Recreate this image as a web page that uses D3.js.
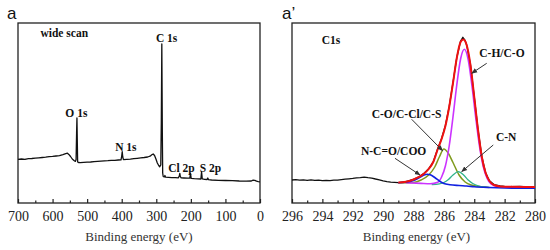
<!DOCTYPE html>
<html>
<head>
<meta charset="utf-8">
<script src="https://cdn.jsdelivr.net/npm/d3@7"></script>
<style>
  html, body { margin: 0; padding: 0; background: #fff; }
  svg { display: block; }
  .serif { font-family: "Liberation Serif", "Times New Roman", Times, "DejaVu Serif", serif; }
  .sans { font-family: "Liberation Sans", Arial, Helvetica, sans-serif; }
</style>
</head>
<body>
<script>
// ---------------- DATA ----------------
// Survey spectrum (binding energy eV, intensity a.u.)
const surveyData = [
  [700,43.7],[690,44.0],[680,43.6],[670,44.3],[660,44.5],[650,44.9],[640,45.2],[630,45.5],[620,45.8],
  [610,46.3],[600,46.6],[590,47.0],[580,47.4],[570,48.3],[562,49.3],[557,49.8],[553,48.6],[548,46.5],
  [543,44.0],[538,42.5],[534,41.6],[532,43.5],[530.5,70],[529.5,85],[528.5,62],[527.5,41.0],[525,40.5],
  [520,40.3],[510,40.6],[500,40.9],[490,41.0],[480,41.4],[470,41.7],[460,41.9],[450,42.1],[440,42.3],
  [430,42.6],[420,42.7],[410,43.0],[402,43.1],[400,47],[398.5,51.3],[397,46],[395,43.3],[385,43.6],
  [375,43.9],[365,44.3],[355,44.7],[345,45.1],[335,45.5],[325,46.0],[318,46.8],[313,48.2],[309,49.0],
  [305,47.5],[301,44],[297,40],[293,37.5],[290,36.3],[287,38],[285.5,80],[284,159],[282.5,70],[281.5,30],
  [280,26.5],[277,26.0],[275,27.5],[273,25.8],[265,25.6],[255,25.4],[245,25.3],[236,25.2],[233.5,27],
  [232,29.7],[230.5,26.5],[228,25.1],[220,25.0],[210,24.8],[203,24.8],[201,29.5],[199,24.7],[190,24.4],
  [180,24.2],[171,24.0],[169,31.3],[167,24.2],[160,23.7],[153,23.5],[151,25],[149,23.3],[140,23.0],
  [120,22.7],[100,22.5],[80,22.3],[60,22.0],[40,21.9],[25,22.0],[20,22.8],[15,22.6],[10,21.8],[5,21.4],[0,21.2]
];
const surveyLabels = [
  {text:"wide scan", e:635, i:170},
  {text:"C 1s", e:301, i:165},
  {text:"O 1s", e:563, i:90},
  {text:"N 1s", e:419, i:56},
  {text:"Cl 2p", e:265.6, i:35},
  {text:"S 2p", e:174.3, i:35}
];
const surveyTicks = [700,600,500,400,300,200,100,0];
const surveyMinor = [650,550,450,350,250,150,50];

// C1s high resolution
const c1sRaw = [
  [296.0,23.0],[295.75,23.3],[295.5,22.8],[295.25,23.1],[295.0,22.7],[294.75,23.2],[294.5,22.6],[294.25,22.9],
  [294.0,22.4],[293.75,22.7],[293.5,22.3],[293.25,22.8],[293.0,22.9],[292.75,23.4],[292.5,23.8],[292.25,24.2],
  [292.0,24.6],[291.75,25.1],[291.5,25.4],[291.25,25.8],[291.0,25.3],[290.75,24.9],[290.5,24.0],[290.25,23.2],
  [290.0,22.1],[289.75,21.3],[289.5,20.8],[289.25,20.6],[289.0,20.4],[288.5,21.3],[288.0,23.6],[287.6,26.5],
  [287.3,29.8],[287.0,34.2],[286.7,41.2],[286.4,54.5],[286.15,64.5],[285.9,77.5],[285.65,96.3],[285.4,120.5],
  [285.15,145.5],[284.9,162],[284.75,165.7],[284.6,162.5],[284.5,158],[284.25,138.3],[284.0,106.2],
  [283.75,73.2],[283.5,46.3],[283.25,30.2],[283.0,22.3],[282.7,18.4],[282.3,17.0],[282.0,16.7],[281.5,16.4],
  [281.0,16.5],[280.5,16.1],[280.0,16.0]
];
const c1sEnvelope = [
  [289.0,20.5],[288.5,21.2],[288.0,23.5],[287.6,26.3],[287.3,29.5],[287.0,34],[286.7,41],[286.4,54],
  [286.15,64],[285.9,77],[285.65,96],[285.4,120],[285.15,145],[284.9,161],[284.72,163.5],[284.5,158],
  [284.25,138],[284.0,106],[283.75,73],[283.5,46],[283.25,30],[283.0,22],[282.7,18],[282.3,16.6],
  [281.5,16.2],[280.0,16.0]
];
const peakCH = [
  [288.5,20.3],[287.5,19.6],[286.9,19.3],[286.4,20.8],[286.15,26],[285.9,37],[285.65,57],[285.4,86],
  [285.15,118],[284.9,144],[284.65,153.7],[284.4,143.5],[284.15,117],[283.9,85],[283.65,56.3],[283.4,36],
  [283.15,24.5],[282.9,19],[282.5,16.5],[282.0,16.0],[281.0,15.8],[280.0,15.7]
];
const peakCO = [
  [289.0,20.2],[288.0,20.6],[287.5,23],[287.0,28],[286.6,36],[286.3,46],[286.0,54],[285.7,49.5],
  [285.4,40.5],[285.0,28],[284.6,21],[284.2,18],[283.5,16.3],[283.0,15.6]
];
const peakCN = [
  [286.8,18.5],[286.3,19.2],[286.0,20.5],[285.7,23.5],[285.4,28],[285.05,31.3],[284.7,28],[284.4,23],
  [284.1,19.5],[283.7,17],[283.2,15.8]
];
const peakNCO = [
  [289.0,20.3],[288.5,20.8],[288.0,22.5],[287.6,25.5],[287.3,28.0],[287.1,28.7],[286.9,28.2],[286.6,25.5],
  [286.3,22.0],[286.0,19.5],[285.6,18.3],[285.0,17.5],[284.5,17.0],[284.0,16.3],[283.0,15.5],[282.0,15.0],
  [281.0,14.8],[280.0,14.7]
];
const c1sLabels = [
  {text:"C1s", e:294.04, i:163},
  {text:"C-H/C-O", e:283.67, i:149.7},
  {text:"C-O/C-Cl/C-S", e:290.75, i:89},
  {text:"C-N", e:282.57, i:65.7},
  {text:"N-C=O/COO", e:291.46, i:52.3}
];
const c1sArrows = [
  {e1:283.18, i1:139.7, e2:284.17, i2:129.7},
  {e1:288.12, i1:83.7,  e2:286.08, i2:52.3},
  {e1:282.75, i1:58,    e2:284.83, i2:31.3},
  {e1:289.22, i1:44.7,  e2:287.57, i2:28}
];
const c1sTicks = [296,294,292,290,288,286,284,282,280];
const c1sMinor = [295,293,291,289,287,285,283,281];

// ---------------- DRAW ----------------
const svg = d3.select("body").append("svg").attr("width",550).attr("height",250);
const TOP = 23, BOT = 203;
const y = d3.scaleLinear().domain([0,180]).range([BOT,TOP]);

svg.append("defs").append("marker")
  .attr("id","arr").attr("viewBox","0 0 10 10").attr("refX",9).attr("refY",5)
  .attr("markerWidth",6).attr("markerHeight",6).attr("orient","auto")
  .append("path").attr("d","M0,1 L10,5 L0,9 z").attr("fill","#333");

function panel(x0,x1,domain,ticks,minor,title,letter,letterX){
  const x = d3.scaleLinear().domain(domain).range([x0,x1]);
  const g = svg.append("g");
  const ax = g.append("g").attr("transform",`translate(0,${BOT})`)
    .call(d3.axisBottom(x).tickValues(ticks).tickSizeInner(-4).tickSizeOuter(0).tickPadding(8.5).tickFormat(d3.format("d")));
  ax.attr("font-family",null).attr("font-size",null);
  ax.select(".domain").remove();
  ax.selectAll("text").attr("class","serif").style("font-size","14px").attr("fill","#222");
  ax.selectAll("line").attr("stroke","#222").attr("stroke-width",1.2);
  const mx = g.append("g").attr("transform",`translate(0,${BOT})`)
    .call(d3.axisBottom(x).tickValues(minor).tickSizeInner(-2.5).tickSizeOuter(0).tickFormat(""));
  mx.select(".domain").remove();
  mx.selectAll("line").attr("stroke","#222").attr("stroke-width",1.2);
  g.append("rect").attr("x",x0).attr("y",TOP).attr("width",x1-x0).attr("height",BOT-TOP)
    .attr("fill","none").attr("stroke","#222").attr("stroke-width",1.3);
  g.append("text").attr("class","serif").attr("x",(x0+x1)/2+ (letter==="a"?0:3)).attr("y",241).attr("text-anchor","middle")
    .style("font-size","13px").attr("fill","#333").text(title);
  g.append("text").attr("class","sans").attr("x",letterX).attr("y",18.5).style("font-size","17px")
    .attr("fill","#111").text(letter);
  return {x,g};
}

// Left: survey
const L = panel(18,260,[700,0],surveyTicks,surveyMinor,"Binding energy (eV)","a",7);
L.g.append("path").datum(surveyData)
  .attr("d",d3.line().x(d=>L.x(d[0])).y(d=>y(d[1])))
  .attr("fill","none").attr("stroke","#111").attr("stroke-width",1.3).attr("stroke-linejoin","round");
L.g.selectAll("text.lbl").data(surveyLabels).join("text").attr("class","lbl serif")
  .attr("x",d=>L.x(d.e)).attr("y",d=>y(d.i)).attr("dy","0.35em")
  .style("font-weight","bold").style("font-size","11.5px").attr("fill","#111")
  .text(d=>d.text);

// Right: C1s
const R = panel(292,535,[296,280],c1sTicks,c1sMinor,"Binding energy (eV)","a\u2019",282);
const sm = d3.line().x(d=>R.x(d[0])).y(d=>y(d[1])).curve(d3.curveMonotoneX);
const smR = d3.line().x(d=>R.x(d[0])).y(d=>y(d[1])).curve(d3.curveLinear);
const sorted = a => a.slice().sort((p,q)=>q[0]-p[0]);
R.g.append("path").datum(sorted(c1sRaw)).attr("d",smR)
  .attr("fill","none").attr("stroke","#111").attr("stroke-width",1.3).attr("stroke-linejoin","round");
[[peakCO,"#7f9a1c",1.5],[peakCN,"#2fb38c",1.3],[peakCH,"#cc33ff",1.6],[peakNCO,"#1020e0",1.6],[c1sEnvelope,"#ee1111",2.0]]
  .forEach(([data,col,w])=>{
    R.g.append("path").datum(sorted(data)).attr("d",sm)
      .attr("fill","none").attr("stroke",col).attr("stroke-width",w);
  });
R.g.selectAll("line.arrow").data(c1sArrows).join("line").attr("class","arrow")
  .attr("x1",d=>R.x(d.e1)).attr("y1",d=>y(d.i1)).attr("x2",d=>R.x(d.e2)).attr("y2",d=>y(d.i2))
  .attr("stroke","#333").attr("stroke-width",1).attr("marker-end","url(#arr)");
R.g.selectAll("text.lbl").data(c1sLabels).join("text").attr("class","lbl serif")
  .attr("x",d=>R.x(d.e)).attr("y",d=>y(d.i)).attr("dy","0.35em")
  .style("font-weight","bold").style("font-size","11.5px").attr("fill","#111")
  .text(d=>d.text);
</script>
</body>
</html>
